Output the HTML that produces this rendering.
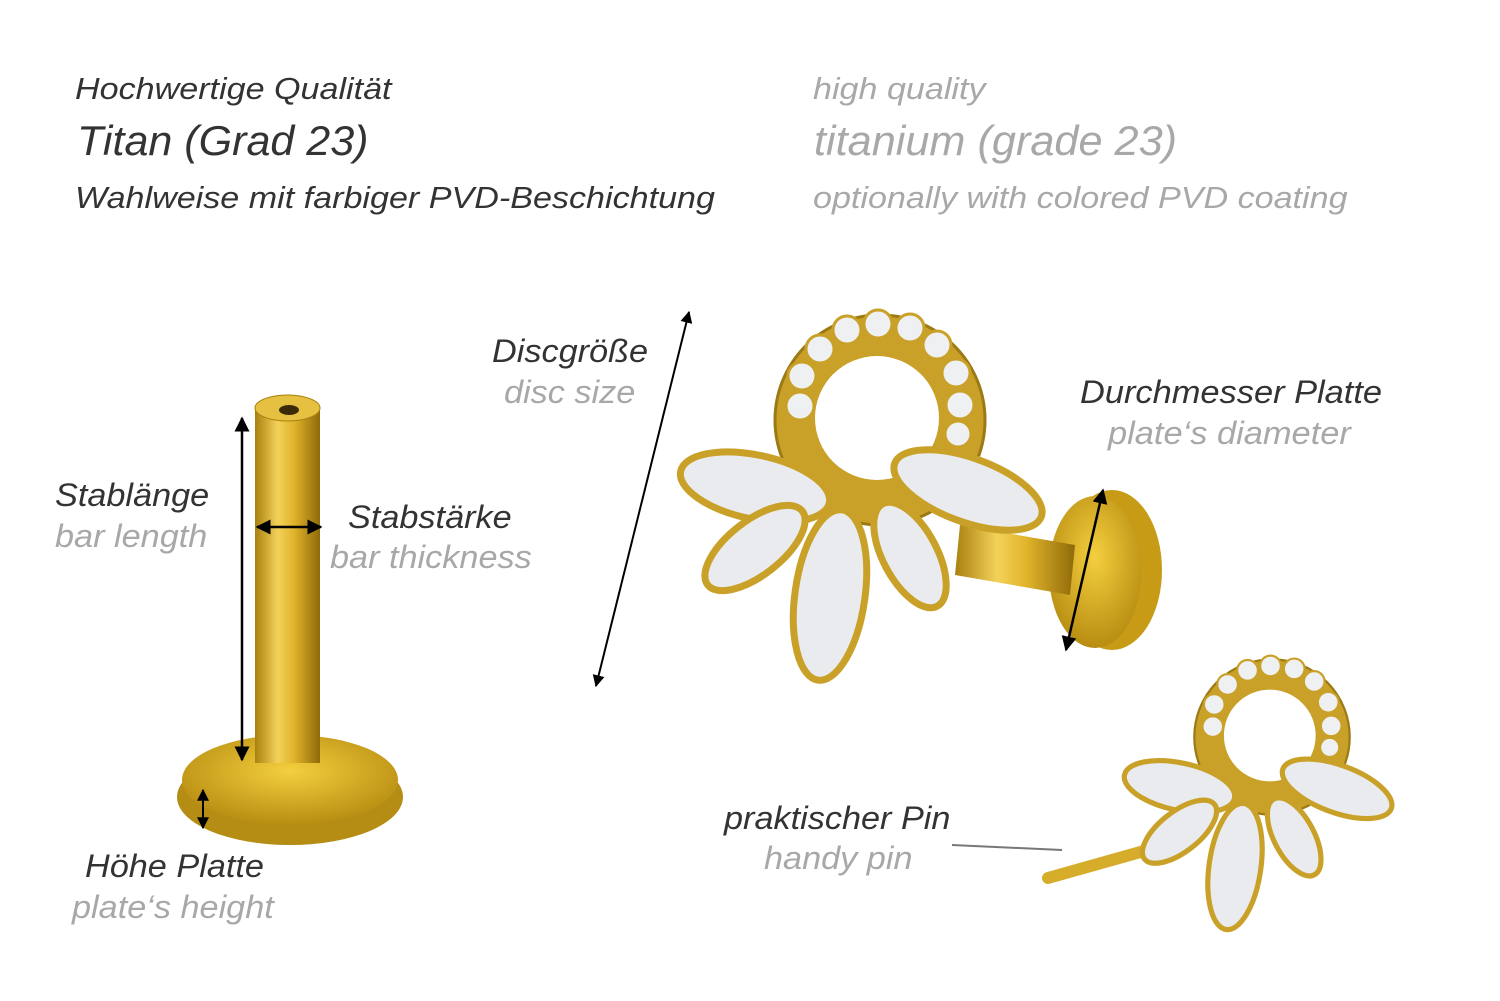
<!DOCTYPE html>
<html><head><meta charset="utf-8"><style>
body{margin:0;width:1500px;height:1001px;background:#fff;overflow:hidden;position:relative;font-family:"Liberation Sans",sans-serif;font-style:italic}
.t{position:absolute;white-space:nowrap;line-height:1;transform-origin:0 0}
.d{color:#333}.g{color:#a8a8a8}
</style></head><body>
<div class="t d" style="left:75px;top:73px;font-size:31px;transform:scaleX(1.1)">Hochwertige Qualität</div>
<div class="t d" style="left:77px;top:120px;font-size:42px;transform:scaleX(1.025)">Titan (Grad 23)</div>
<div class="t d" style="left:75px;top:182px;font-size:31px;transform:scaleX(1.1)">Wahlweise mit farbiger PVD-Beschichtung</div>
<div class="t g" style="left:813px;top:73px;font-size:31px;transform:scaleX(1.1)">high quality</div>
<div class="t g" style="left:814px;top:120px;font-size:42px;transform:scaleX(1.03)">titanium (grade 23)</div>
<div class="t g" style="left:813px;top:182px;font-size:31px;transform:scaleX(1.1)">optionally with colored PVD coating</div>

<div class="t d" style="left:492px;top:335px;font-size:32px;transform:scaleX(1.07)">Discgröße</div>
<div class="t g" style="left:504px;top:376px;font-size:32px;transform:scaleX(1.07)">disc size</div>
<div class="t d" style="left:1080px;top:376px;font-size:32px;transform:scaleX(1.075)">Durchmesser Platte</div>
<div class="t g" style="left:1108px;top:417px;font-size:32px;transform:scaleX(1.075)">plate‘s diameter</div>
<div class="t d" style="left:55px;top:479px;font-size:32px;transform:scaleX(1.07)">Stablänge</div>
<div class="t g" style="left:55px;top:520px;font-size:32px;transform:scaleX(1.07)">bar length</div>
<div class="t d" style="left:348px;top:501px;font-size:32px;transform:scaleX(1.07)">Stabstärke</div>
<div class="t g" style="left:330px;top:541px;font-size:32px;transform:scaleX(1.07)">bar thickness</div>
<div class="t d" style="left:85px;top:850px;font-size:32px;transform:scaleX(1.07)">Höhe Platte</div>
<div class="t g" style="left:72px;top:891px;font-size:32px;transform:scaleX(1.07)">plate‘s height</div>
<div class="t d" style="left:724px;top:802px;font-size:32px;transform:scaleX(1.07)">praktischer Pin</div>
<div class="t g" style="left:764px;top:842px;font-size:32px;transform:scaleX(1.07)">handy pin</div>

<svg width="1500" height="1001" style="position:absolute;left:0;top:0">
<defs>
<linearGradient id="gv" x1="0" x2="1" y1="0" y2="0">
<stop offset="0" stop-color="#a8800e"/><stop offset="0.35" stop-color="#f3d25a"/><stop offset="0.6" stop-color="#e0b32a"/><stop offset="1" stop-color="#8f6a0a"/></linearGradient>
<radialGradient id="gd" cx="0.5" cy="0.4" r="0.6"><stop offset="0" stop-color="#f4cf3e"/><stop offset="1" stop-color="#b88d12"/></radialGradient>
<marker id="ah" viewBox="0 0 10 10" refX="9" refY="5" markerWidth="6" markerHeight="6" orient="auto-start-reverse"><path d="M0,0L10,5L0,10z" fill="#000"/></marker>
<g id="ear">
<circle cx="880" cy="420" r="105" fill="#c9a128" stroke="#9b7a14" stroke-width="3"/>
<circle cx="877" cy="418" r="62" fill="#fff"/>
<g fill="#eef0f2" stroke="#c9a128" stroke-width="3">
<circle cx="800" cy="406" r="14"/><circle cx="802" cy="376" r="14"/><circle cx="820" cy="349" r="14"/><circle cx="847" cy="330" r="14"/><circle cx="878" cy="324" r="14"/><circle cx="910" cy="328" r="14"/><circle cx="937" cy="345" r="14"/><circle cx="956" cy="373" r="14"/><circle cx="960" cy="405" r="14"/><circle cx="958" cy="434" r="13"/>
</g>
<g fill="#e9ebee" stroke="#c9a128" stroke-width="7">
<ellipse cx="755" cy="487" rx="76" ry="32" transform="rotate(12 755 487)"/>
<ellipse cx="968" cy="490" rx="78" ry="32" transform="rotate(20 968 490)"/>
<ellipse cx="755" cy="548" rx="60" ry="27" transform="rotate(-38 755 548)"/>
<ellipse cx="910" cy="555" rx="58" ry="27" transform="rotate(-118 910 555)"/>
<ellipse cx="830" cy="595" rx="86" ry="35" transform="rotate(-82 830 595)"/>
</g>
</g>
</defs>
<ellipse cx="290" cy="797" rx="113" ry="48" fill="#b58d14"/>
<ellipse cx="290" cy="780" rx="108" ry="45" fill="url(#gd)"/>
<rect x="255" y="408" width="65" height="355" fill="url(#gv)"/>
<ellipse cx="287.5" cy="408" rx="32.5" ry="13" fill="#e6c040" stroke="#a8800e"/>
<ellipse cx="289" cy="410" rx="10" ry="5" fill="#3a2a05"/>
<line x1="242" y1="760" x2="242" y2="418" stroke="#000" stroke-width="2.5" marker-start="url(#ah)" marker-end="url(#ah)"/>
<line x1="257" y1="527" x2="321" y2="527" stroke="#000" stroke-width="2.5" marker-start="url(#ah)" marker-end="url(#ah)"/>
<line x1="203" y1="790" x2="203" y2="828" stroke="#000" stroke-width="2" marker-start="url(#ah)" marker-end="url(#ah)"/>
<ellipse cx="1112" cy="570" rx="50" ry="80" fill="#c79b15"/>
<ellipse cx="1095" cy="572" rx="46" ry="76" fill="url(#gd)"/>
<polygon points="960,525 1075,545 1070,595 955,575" fill="url(#gv)"/>
<use href="#ear"/>
<line x1="596" y1="686" x2="689" y2="312" stroke="#000" stroke-width="2" marker-start="url(#ah)" marker-end="url(#ah)"/>
<line x1="1066" y1="650" x2="1103" y2="490" stroke="#000" stroke-width="2.5" marker-start="url(#ah)" marker-end="url(#ah)"/>
<line x1="952" y1="845" x2="1062" y2="850" stroke="#777" stroke-width="2"/>
<line x1="1048" y1="878" x2="1190" y2="838" stroke="#d6ad2a" stroke-width="12" stroke-linecap="round"/>
<g transform="translate(1272,737) scale(0.74) translate(-880,-420)"><use href="#ear"/></g>
</svg>
</body></html>
